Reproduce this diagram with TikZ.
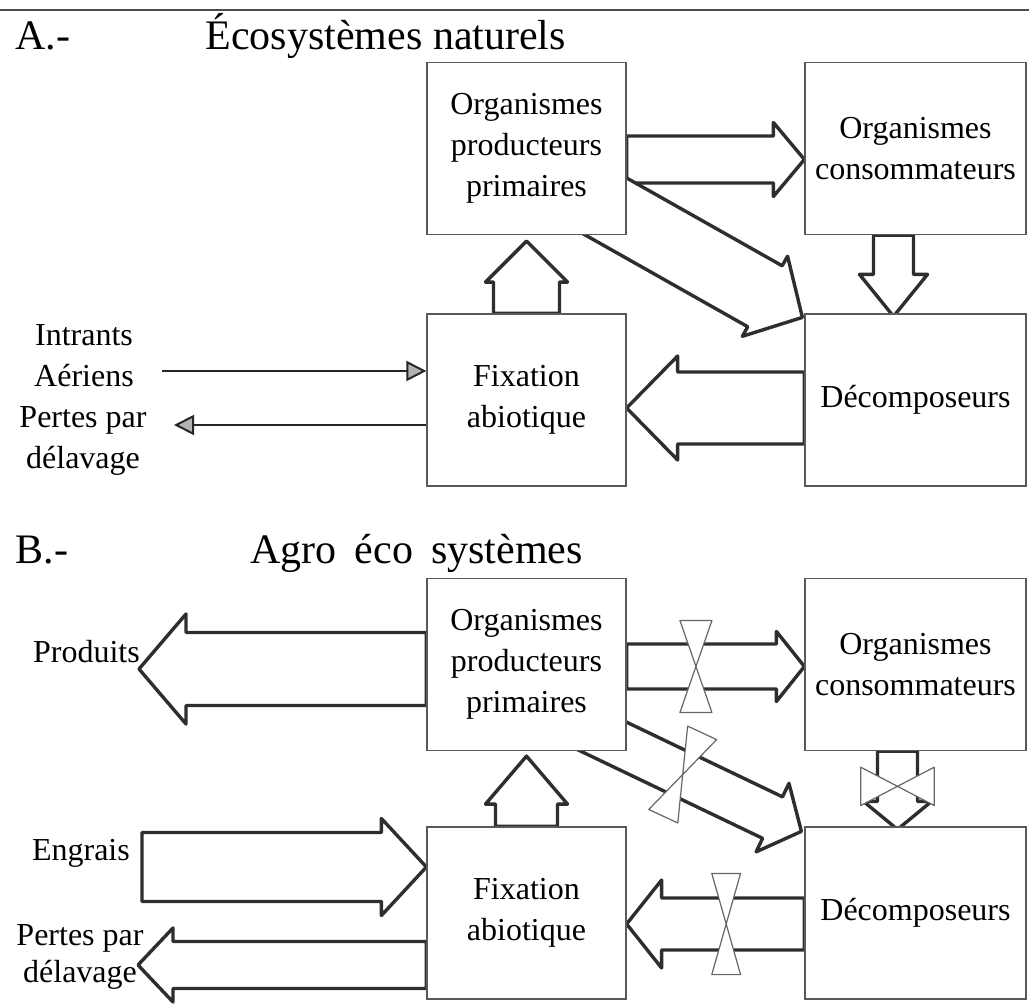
\documentclass[tikz,border=0pt]{standalone}
\usepackage{fontspec}
\setmainfont{Liberation Serif}
\usetikzlibrary{calc,backgrounds,arrows.meta}
\newcommand{\boxfont}{\fontsize{32}{41}\selectfont}
\newcommand{\titlefont}{\fontsize{42}{50}\selectfont}
\tikzstyle{lbox} = [rectangle, draw=black!65, line width=1.2pt, fill=white, inner sep=0pt, align=center, font=\boxfont, minimum width=199pt, minimum height=172pt]
\tikzstyle{rbox} = [lbox, minimum width=221pt]
\tikzstyle{lbl} = [inner sep=0pt, align=center, font=\boxfont]
\tikzstyle{fat} = [draw=black!82, line width=3.4pt, fill=white, line join=round]
\tikzstyle{flux} = [draw=black!85, line width=1.8pt, -{Triangle[length=20pt,width=20pt,fill=black!30,line width=2pt]}]
\tikzstyle{glass} = [draw=black!60, line width=1.2pt, fill=white, line join=round]
\tikzset{hourglass/.pic={\draw[glass] (-16,-46) -- (16,-46) -- (-16,46) -- (16,46) -- cycle;}}
\newcommand{\blockarrow}[5]{%
  \coordinate (ba-h) at ($(#2)!#5!(#1)$);
  \draw[fat] ($(#1)!#3!90:(#2)$) -- ($(ba-h)!#3!90:(#2)$) -- ($(ba-h)!#4!90:(#2)$) -- (#2)
    -- ($(ba-h)!#4!-90:(#2)$) -- ($(ba-h)!#3!-90:(#2)$) -- ($(#1)!#3!-90:(#2)$) -- cycle;}

\begin{document}
\begin{tikzpicture}[x=1pt, y=-1pt]
    \useasboundingbox (0,0) rectangle (1029,1006);
    \draw[black!70, line width=2.5pt] (0,10) -- (1029,10);

    \node[anchor=base west, font=\titlefont] (secA) at (12,50) {A.-};
    \node[anchor=base west, font=\titlefont] (titleA) at (202,50) {Écosystèmes naturels};
    \node[lbox] at (526.5,148.5) (ppA) {Organismes\\producteurs\\primaires};
    \node[rbox] at (915.5,148.5) (ocA) {Organismes\\consommateurs};
    \node[lbox] at (526.5,400) (faA) {Fixation\\abiotique};
    \node[rbox] at (915.5,400) (dcA) {Décomposeurs};
    \node[lbl] at (84,355.5) (inA) {Intrants\\Aériens};
    \node[lbl] at (83,441) (lossA) {Pertes par\\délavage};

    \node[anchor=base west, font=\titlefont] (secB) at (12,563) {B.-};
    \node[anchor=base west, font=\titlefont] (titleB) at (247,563) {Agro\hspace{18pt}éco\hspace{18pt}systèmes};
    \node[lbox] at (526.5,664.5) (ppB) {Organismes\\producteurs\\primaires};
    \node[rbox] at (915.5,664.5) (ocB) {Organismes\\consommateurs};
    \node[lbox] at (526.5,913) (faB) {Fixation\\abiotique};
    \node[rbox] at (915.5,913) (dcB) {Décomposeurs};
    \node[lbl, anchor=base east] at (140,662) (prodB) {Produits};
    \node[lbl, anchor=base east] at (130,860) (engB) {Engrais};
    \node[lbl, font=\fontsize{32}{37}\selectfont] at (80,956.5) (lossB) {Pertes par\\délavage};

    \begin{pgfonlayer}{background}
        \coordinate (a1s) at ($(ppA.east)+(0,11)$);
        \coordinate (a1t) at ($(ocA.west)+(0,11)$);
        \coordinate (a2s) at ($(ppA.south east)+(-32,-35)$);
        \coordinate (a2t) at ($(dcA.north west)+(-2,4)$);
        \coordinate (a3t) at ($(ppA.south)+(0,6)$);
        \coordinate (a4s) at ($(ocA.south)+(-22,0)$);
        \coordinate (a4t) at ($(dcA.north)+(-22,3)$);
        \coordinate (a5s) at ($(dcA.west)+(0,8)$);
        \coordinate (a5t) at ($(faA.east)+(0,8)$);
        \blockarrow{a1s}{a1t}{23.5pt}{37pt}{31pt}
        \blockarrow{a2s}{a2t}{35pt}{46pt}{43pt}
        \blockarrow{faA.north}{a3t}{33pt}{41pt}{41pt}
        \blockarrow{a4s}{a4t}{20pt}{34pt}{42pt}
        \blockarrow{a5s}{a5t}{36pt}{52pt}{51pt}

        \coordinate (b1s) at ($(ppB.east)+(0,2)$);
        \coordinate (b1t) at ($(ocB.west)+(0,2)$);
        \coordinate (b2s) at ($(ppB.south east)+(-45,-25)$);
        \coordinate (b2t) at ($(dcB.north west)+(-3,5)$);
        \coordinate (b3t) at ($(ppB.south)+(0,5)$);
        \coordinate (b4s) at ($(ocB.south)+(-18,0)$);
        \coordinate (b4t) at ($(dcB.north)+(-18,3)$);
        \coordinate (b5s) at ($(dcB.west)+(0,11)$);
        \coordinate (b5t) at ($(faB.east)+(0,11)$);
        \coordinate (b6s) at ($(ppB.west)+(0,4.5)$);
        \coordinate (prodB-tip) at (139,669);
        \coordinate (engB-tail) at (142,867);
        \coordinate (b7t) at (faB.west |- engB-tail);
        \coordinate (lossB-tip) at (138,965);
        \coordinate (b8s) at (faB.west |- lossB-tip);
        \blockarrow{b1s}{b1t}{22.5pt}{35pt}{28pt}
        \blockarrow{b2s}{b2t}{23pt}{38pt}{32pt}
        \blockarrow{faB.north}{b3t}{31pt}{41pt}{48pt}
        \blockarrow{b4s}{b4t}{20pt}{34pt}{28pt}
        \blockarrow{b5s}{b5t}{26pt}{44pt}{35pt}
        \blockarrow{b6s}{prodB-tip}{36.5pt}{55pt}{47pt}
        \blockarrow{engB-tail}{b7t}{34.5pt}{48.5pt}{45pt}
        \blockarrow{b8s}{lossB-tip}{23.5pt}{37pt}{35pt}
    \end{pgfonlayer}

    \coordinate (inA-tail) at (162,371);
    \coordinate (lossA-tip) at (174,425);
    \draw[flux] (inA-tail) -- (inA-tail -| faA.west);
    \draw[flux] (lossA-tip -| faA.west) -- (lossA-tip);

    \pic at ($(b1s)!0.39!(b1t)$) {hourglass};
    \pic[rotate=-25] at ($(b2s)!0.46!(b2t)$) {hourglass};
    \pic[rotate=90, yscale=0.8, xscale=1.2] at ($(b4s)!0.45!(b4t)$) {hourglass};
    \pic[yscale=1.1, xscale=0.9] at ($(b5s)!0.44!(b5t)$) {hourglass};
\end{tikzpicture}
\end{document}
